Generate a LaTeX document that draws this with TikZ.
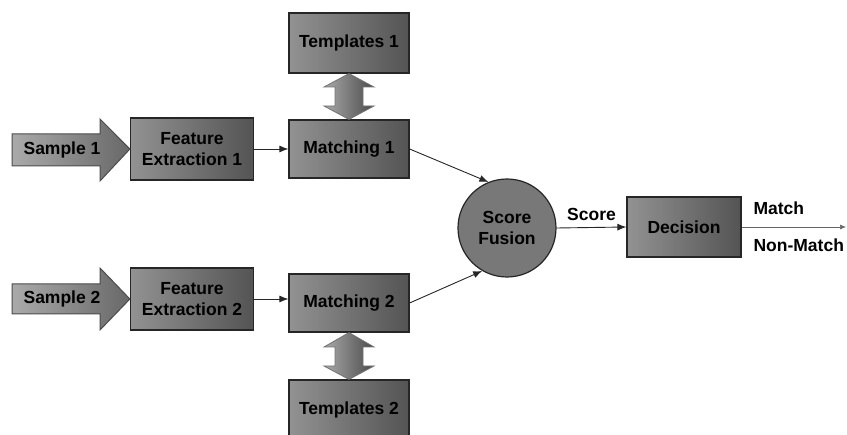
\documentclass[tikz,border=0pt]{standalone}
\usepackage{fontspec}
\setmainfont{Liberation Sans}
\usetikzlibrary{arrows.meta}
\definecolor{boxlight}{RGB}{146,146,146}
\definecolor{boxdark}{RGB}{84,84,84}
\definecolor{arrlight}{RGB}{170,170,170}
\definecolor{arrdark}{RGB}{104,104,104}
\definecolor{fusegray}{RGB}{120,120,120}
\tikzset{
  blockbox/.style={draw=black!85,line width=1.2pt,left color=boxlight,right color=boxdark,
    minimum width=120pt,minimum height=58pt,align=center,font=\bfseries\fontsize{17.5}{21}\selectfont},
  samplearrow/.style={draw=black!70,line width=1pt,left color=arrlight,right color=arrdark},
  linkarrow/.style={draw=black!55,line width=0.8pt,left color=arrlight,right color=arrdark!120!white},
  conn/.style={-{Latex[length=9pt,width=7pt]},line width=0.9pt,draw=black!85},
  lbl/.style={font=\bfseries\fontsize{17.5}{21}\selectfont}
}
\begin{document}
\begin{tikzpicture}[x=1pt,y=-1pt]
  \useasboundingbox (0,0) rectangle (847,435);
  \clip (0,0) rectangle (847,435);
  % upper branch
  \node[blockbox,minimum width=123pt,minimum height=62pt] (fe1) at (192,149) {Feature\\Extraction 1};
  \node[blockbox] (m1) at (349,149) {Matching 1};
  \node[blockbox,minimum height=60pt] (t1) at (349,43) {Templates 1};
  % lower branch
  \node[blockbox,minimum width=123pt,minimum height=62pt] (fe2) at (192,299) {Feature\\Extraction 2};
  \node[blockbox] (m2) at (349,303) {Matching 2};
  \node[blockbox,minimum height=60pt] (t2) at (349,410) {Templates 2};
  % input arrows, tips on the feature boxes
  \path[samplearrow] (12,134) -- (100,134) -- (100,119) -- (fe1.west) -- (100,181) -- (100,166) -- (12,166) -- cycle;
  \path[samplearrow] (12,284) -- (100,284) -- (100,268) -- (fe2.west) -- (100,330) -- (100,314) -- (12,314) -- cycle;
  \node[lbl] (s1) at (62,150) {Sample 1};
  \node[lbl] (s2) at (62,299) {Sample 2};
  % template links
  \path[linkarrow] (t1.south) -- (374,87) -- (363,87) -- (363,106) -- (374,106) -- (m1.north)
    -- (324,106) -- (335,106) -- (335,87) -- (324,87) -- cycle;
  \path[linkarrow] (m2.south) -- (374,347) -- (363,347) -- (363,366) -- (374,366) -- (t2.north)
    -- (324,366) -- (335,366) -- (335,347) -- (324,347) -- cycle;
  % fusion and decision
  \node[circle,draw=black!85,line width=1.2pt,fill=fusegray,minimum size=98pt,align=center,
    font=\bfseries\fontsize{17.5}{21}\selectfont] (sf) at (507,228) {Score\\Fusion};
  \node[blockbox,minimum width=114pt,minimum height=60pt] (dec) at (684,227) {Decision};
  \coordinate (out) at (846,227);

  \draw[conn] (fe1.east) -- (m1.west);
  \draw[conn] (fe2.east) -- (fe2.east -| m2.west);
  \draw[conn] (m1.east) -- (sf.112);
  \draw[conn] (m2.east) -- (sf.240);
  \draw[conn] (sf.east) -- node[lbl,above=3pt] (sc) {Score} (dec.west);
  \draw[-{Latex[length=6pt,width=5pt]},line width=0.6pt,draw=black!60] (dec.east) -- (out);
  \node[lbl,anchor=west] (mt) at (750,208) {Match};
  \node[lbl,anchor=west] (nm) at (750,245) {Non-Match};
\end{tikzpicture}
\end{document}
